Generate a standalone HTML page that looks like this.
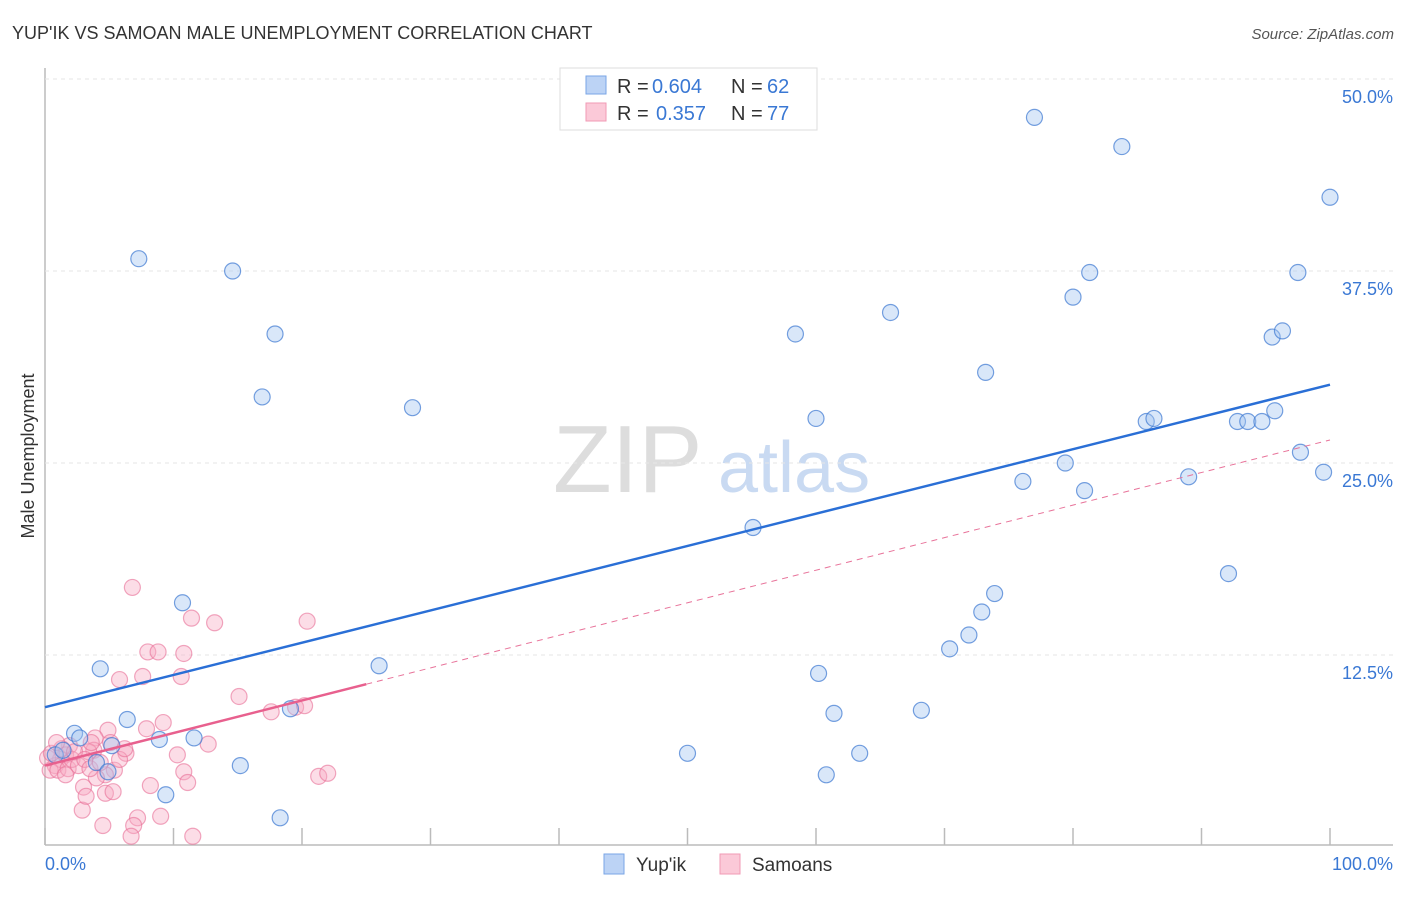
<!DOCTYPE html>
<html><head><meta charset="utf-8"><style>
body{margin:0;background:#fff;font-family:"Liberation Sans",sans-serif;}
svg text{font-family:"Liberation Sans",sans-serif;}
</style></head><body>
<svg id="chart" width="1406" height="892">
<text x="12" y="39" font-size="18" fill="#333">YUP'IK VS SAMOAN MALE UNEMPLOYMENT CORRELATION CHART</text>
<text x="1394" y="39" font-size="15" fill="#555" font-style="italic" text-anchor="end">Source: ZipAtlas.com</text>
<text transform="translate(34,456) rotate(-90)" font-size="18" fill="#333" text-anchor="middle">Male Unemployment</text>
<g><text x="553" y="492" font-size="96" fill="#ddd" font-family="Liberation Serif">ZIP</text><text x="718" y="492" font-size="72" fill="#c9daf2">atlas</text></g>
<g id="grid"></g><g id="pts"></g><g id="lines"></g>
<g>
<rect x="560" y="68" width="257" height="62" fill="#fff" stroke="#ddd"/>
<rect x="586" y="76" width="20" height="18" fill="#bcd3f5" stroke="#7aa6e6"/>
<rect x="586" y="103" width="20" height="18" fill="#fbc9d8" stroke="#f09ab5"/>
<text x="617" y="93" font-size="20" fill="#333">R =</text>
<text x="652" y="93" font-size="20" fill="#3a78d4">0.604</text>
<text x="731" y="93" font-size="20" fill="#333">N =</text>
<text x="767" y="93" font-size="20" fill="#3a78d4">62</text>
<text x="617" y="120" font-size="20" fill="#333">R =</text>
<text x="656" y="120" font-size="20" fill="#3a78d4">0.357</text>
<text x="731" y="120" font-size="20" fill="#333">N =</text>
<text x="767" y="120" font-size="20" fill="#3a78d4">77</text>
</g>
<g>
<rect x="604" y="854" width="20" height="20" fill="#bcd3f5" stroke="#7aa6e6"/>
<text x="636" y="871" font-size="19" fill="#333">Yup'ik</text>
<rect x="720" y="854" width="20" height="20" fill="#fbc9d8" stroke="#f09ab5"/>
<text x="752" y="871" font-size="19" fill="#333">Samoans</text>
</g>
</svg>
<script>
const blueX=[7.3,14.6,17.9,16.9,28.6,10.7,4.3,26.0,6.4,19.1,2.3,2.7,5.2,8.9,11.6,4.0,4.9,15.2,9.4,18.3,0.8,1.4,77.0,83.8,100,81.3,80.0,97.5,65.8,58.4,95.5,96.3,73.2,60.0,85.7,86.3,92.8,93.6,94.7,95.7,97.7,99.5,79.4,76.1,80.9,89.0,55.1,92.1,73.9,72.9,71.9,70.4,60.2,61.4,68.2,50.0,63.4,60.8];
const blueY=[38.3,37.5,33.4,29.3,28.6,15.9,11.6,11.8,8.3,9.0,7.4,7.1,6.6,7.0,7.1,5.5,4.9,5.3,3.4,1.9,6.0,6.3,47.5,45.6,42.3,37.4,35.8,37.4,34.8,33.4,33.2,33.6,30.9,27.9,27.7,27.9,27.7,27.7,27.7,28.4,25.7,24.4,25.0,23.8,23.2,24.1,20.8,17.8,16.5,15.3,13.8,12.9,11.3,8.7,8.9,6.1,6.1,4.7];
const pinkX=[6.8,11.4,13.2,20.4,8.0,8.8,10.8,5.8,7.6,10.6,15.1,17.6,19.5,20.2,4.9,7.9,9.2,3.9,6.3,10.3,12.7,10.8,11.1,8.2,9.0,7.2,6.9,4.5,6.7,11.5,21.3,22.0,3.0,2.9,3.2,4.7,5.3,5.4,4.7,4.0,3.8,3.4,1.9,1.6,1.2,0.8,0.4,0.2,0.5,1.0,1.8,2.1,2.6,1.3,2.3,3.1,3.5,4.3,5.8,6.2,5.1,3.6,0.9,1.6];
const pinkY=[16.9,14.9,14.6,14.7,12.7,12.7,12.6,10.9,11.1,11.1,9.8,8.8,9.1,9.2,7.6,7.7,8.1,7.1,6.1,6.0,6.7,4.9,4.2,4.0,2.0,1.9,1.4,1.4,0.7,0.7,4.6,4.8,3.9,2.4,3.3,3.5,3.6,5.0,4.7,4.5,6.3,6.2,6.6,6.0,5.7,5.3,5.0,5.8,6.1,5.0,5.1,5.7,5.3,6.4,6.2,5.7,5.1,5.5,5.7,6.4,6.8,6.8,6.8,4.7];
const blueTrend=[9.1,30.1];
const pinkTrend=[5.3,26.5];
const pinkSolidEnd=25;
const yTicks=[12.5,25,37.5,50];
const yTickLabels=["12.5%","25.0%","37.5%","50.0%"];
const xTicks=[0,10,20,30,40,50,60,70,80,90,100];
const NS="http://www.w3.org/2000/svg";
const sx=v=>45+v*12.85, sy=v=>847-v*15.36;
function mk(t,a,p){const e=document.createElementNS(NS,t);for(const k in a)e.setAttribute(k,a[k]);p.appendChild(e);return e;}
const grid=document.getElementById('grid'),pts=document.getElementById('pts'),lines=document.getElementById('lines');
mk('line',{x1:45,y1:845,x2:1393,y2:845,stroke:'#bbb','stroke-width':1.5},grid);
mk('line',{x1:45,y1:68,x2:45,y2:845,stroke:'#bbb','stroke-width':1.5},grid);
yTicks.forEach((t,i)=>{
 const g=mk('line',{x1:45,y1:sy(t),x2:1393,y2:sy(t),stroke:'#e6e6e6','stroke-dasharray':'4,4'},grid);
 
 
 const l=mk('text',{x:1393,y:sy(t)+24,'font-size':18,fill:'#3a78d4','text-anchor':'end'},grid);
 l.textContent=yTickLabels[i];
 
 
});
mk('line',{x1:45,y1:79,x2:1393,y2:79,stroke:'#e6e6e6','stroke-dasharray':'4,4'},grid);
xTicks.forEach(t=>{
 const k=mk('line',{x1:sx(t),y1:828,x2:sx(t),y2:845,stroke:'#bbb','stroke-width':1.5},grid);
 
 
});
const xl0=mk('text',{x:45,y:870,'font-size':18,fill:'#3a78d4'},grid);xl0.textContent='0.0%';


const xl1=mk('text',{x:1393,y:870,'font-size':18,fill:'#3a78d4','text-anchor':'end'},grid);xl1.textContent='100.0%';


pinkX.forEach((x,i)=>{
 const c=mk('circle',{cx:sx(x),cy:sy(pinkY[i]),r:8,fill:'rgba(248,170,195,0.4)',stroke:'rgba(232,110,150,0.6)','stroke-width':1.2},pts);
 
 
});
blueX.forEach((x,i)=>{
 const c=mk('circle',{cx:sx(x),cy:sy(blueY[i]),r:8,fill:'rgba(160,195,240,0.4)',stroke:'rgba(60,120,210,0.7)','stroke-width':1.2},pts);
 
 
});
const bl=mk('line',{x1:sx(0),y1:sy(blueTrend[0]),x2:sx(100),y2:sy(blueTrend[1]),stroke:'#2a6fd6','stroke-width':2.5},lines);


const pAt=x=>pinkTrend[0]+(pinkTrend[1]-pinkTrend[0])*x/100;
const pd=mk('line',{x1:sx(pinkSolidEnd),y1:sy(pAt(pinkSolidEnd)),x2:sx(100),y2:sy(pinkTrend[1]),stroke:'#e8739a','stroke-width':1,'stroke-dasharray':'6,5'},lines);


const ps=mk('line',{x1:sx(0),y1:sy(pinkTrend[0]),x2:sx(pinkSolidEnd),y2:sy(pAt(pinkSolidEnd)),stroke:'#e8608e','stroke-width':2.5},lines);


</script>
</body></html>
